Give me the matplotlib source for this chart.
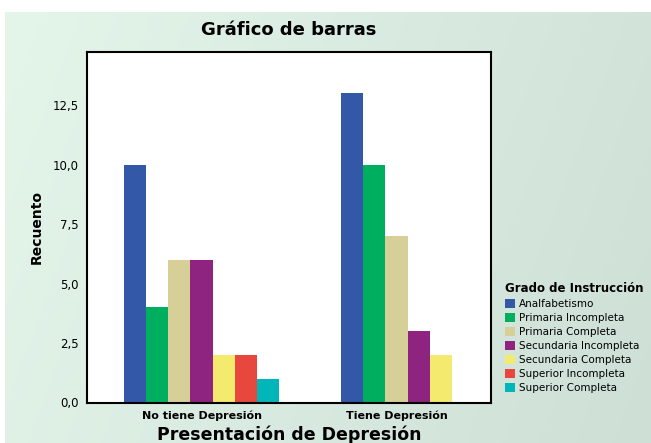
import numpy as np
import matplotlib
matplotlib.use('Agg')
import matplotlib.pyplot as plt
from matplotlib.patches import Patch

grupos = ['No tiene Depresión', 'Tiene Depresión']
niveles = ['Analfabetismo', 'Primaria Incompleta', 'Primaria Completa',
           'Secundaria Incompleta', 'Secundaria Completa',
           'Superior Incompleta', 'Superior Completa']
colores = ['#3458A8', '#00AE5F', '#D6CF98', '#8E2380',
           '#F3EA6E', '#E8473D', '#00B6B9']
# recuentos por grupo (None = categoria sin casos)
no_tiene = [10, 4, 6, 6, 2, 2, 1]
tiene = [13, 10, 7, 3, 2, None, None]

fig = plt.figure(figsize=(6.51, 4.43), dpi=100)

# fondo degradado
bg = fig.add_axes([5/651, 0, 1 - 5/651, (443-12)/443])
bg.set_axis_off()
c1 = np.array([0xE4, 0xF5, 0xEA]) / 255
c2 = np.array([0xCE, 0xE0, 0xD6]) / 255
gx = np.linspace(0, 1, 200)[None, :]
gy = np.linspace(0, 1, 100)[:, None]
t = np.clip(0.8 * gx + 0.2 * gy, 0, 1)
img = c1[None, None, :] * (1 - t[..., None]) + c2[None, None, :] * t[..., None]
bg.imshow(img, aspect='auto', extent=[0, 1, 0, 1], origin='upper')

ax = fig.add_axes([87/651, (443-402.5)/443, 404/651, 350.5/443])
ax.set_facecolor('white')
w = 0.114
for gi, vals in enumerate([no_tiene, tiene]):
    presentes = [(i, v) for i, v in enumerate(vals) if v is not None]
    n = len(presentes)
    for k, (i, v) in enumerate(presentes):
        x = gi + (k - (n - 1) / 2) * w
        ax.bar(x, v, width=w, color=colores[i], linewidth=0)

ax.set_xlim(-0.587, 1.484)
ax.set_ylim(0, 14.73)
ax.set_yticks([0, 2.5, 5, 7.5, 10, 12.5])
ax.set_yticklabels(['0,0', '2,5', '5,0', '7,5', '10,0', '12,5'], fontsize=8.5)
ax.set_xticks([0, 1])
ax.set_xticklabels(grupos, fontsize=8, fontweight='bold')
ax.tick_params(axis='y', length=0, pad=6)
ax.tick_params(axis='x', length=0, pad=6)
for s in ax.spines.values():
    s.set_linewidth(1.5)
    s.set_color('black')

ax.set_ylabel('Recuento', fontsize=10, fontweight='bold', labelpad=6)
ax.set_xlabel('Presentación de Depresión', fontsize=12.5, fontweight='bold', labelpad=3)
fig.text(289/651, 1 - 30/443, 'Gráfico de barras', fontsize=13, fontweight='bold',
         ha='center', va='center')

handles = [Patch(facecolor=c, edgecolor='none', label=l) for c, l in zip(colores, niveles)]
leg = fig.legend(handles=handles, title='Grado de Instrucción', loc='upper left',
                 bbox_to_anchor=(498/651, 1 - 275/443), frameon=False,
                 fontsize=7.5, title_fontproperties={'weight': 'bold', 'size': 8.5},
                 handlelength=0.9, handleheight=0.9, handletextpad=0.4,
                 labelspacing=0.38, borderpad=0.2)
leg._legend_box.align = 'left'

fig.savefig('out.png', dpi=100)
